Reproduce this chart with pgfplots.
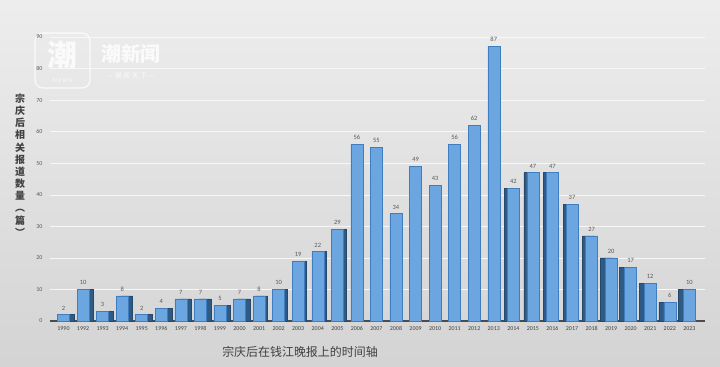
\documentclass[border=0pt]{standalone}
\usepackage{fontspec}
\setmainfont{Carlito}
\newfontfamily\cjk{Noto Sans CJK SC}
\usepackage{pgfplots}
\usepackage{pgfplotstable}
\pgfplotsset{compat=1.18}
\definecolor{frontblue}{HTML}{6CA6E0}
\definecolor{frontedge}{HTML}{3F7CC0}
\definecolor{sideblue}{HTML}{2E5A86}
\definecolor{txtgray}{HTML}{595959}
\definecolor{darktxt}{HTML}{404040}
\pgfplotstableread{
x v
0 2
1 10
2 3
3 8
4 2
5 4
6 7
7 7
8 5
9 7
10 8
11 10
12 19
13 22
14 29
15 56
16 55
17 34
18 49
19 43
20 56
21 62
22 87
23 42
24 47
25 47
26 37
27 27
28 20
29 17
30 12
31 6
32 10
}\datatable
\begin{document}
\begin{tikzpicture}
\shade[top color=black!7, bottom color=black!17] (-50bp,-46bp) rectangle (670bp,321bp);
% watermark
\begin{scope}[opacity=0.8]
\draw[white, line width=1.1pt, rounded corners=8bp] (-15bp,233bp) rectangle (40bp,288bp);
\node[white, font=\cjk\fontsize{30}{30}\selectfont\bfseries] at (12.5bp,266bp) {潮};
\node[white, font=\fontsize{6}{6}\selectfont] at (12.5bp,240bp) {N E W S};
\node[white, font=\cjk\fontsize{20}{20}\selectfont\bfseries] at (81bp,267bp) {潮新闻};
\node[white, font=\cjk\fontsize{7}{7}\selectfont] at (81bp,245bp) {— 潮 闻 天 下 —};
\end{scope}
\begin{axis}[
  scale only axis,
  width=655bp, height=284bp,
  xmin=-0.69, xmax=32.8,
  ymin=0, ymax=90,
  ybar,
  bar width=12bp,
  ytick={0,10,...,90},
  xtick={0,...,32},
  xticklabels={1990,1992,1993,1994,1995,1996,1997,1998,1999,2000,2001,2002,2003,2004,2005,2006,2007,2008,2009,2010,2011,2012,2013,2014,2015,2016,2017,2018,2019,2020,2021,2022,2023},
  major tick length=0pt,
  axis x line*=bottom,
  axis y line*=left,
  y axis line style={draw=none},
  x axis line style={draw=gray!60!black, line width=1.2pt},
  ymajorgrids,
  grid style={white!97!black, line width=0.5pt},
  /pgf/number format/assume math mode=true,
  yticklabel style={font=\fontsize{6}{6}\selectfont, text=txtgray, xshift=-4bp},
  xticklabel style={font=\fontsize{6}{6}\selectfont, text=darktxt, yshift=-2bp},
  clip=false,
]
\addplot[bar shift=4.5bp, fill=sideblue, draw=sideblue!80!black, restrict x to domain=0:9] table[x=x,y=v]{\datatable};
\addplot[bar shift=2.5bp, fill=sideblue, draw=sideblue!80!black, restrict x to domain=10:14] table[x=x,y=v]{\datatable};
\addplot[bar shift=-3bp, fill=sideblue, draw=sideblue!80!black, restrict x to domain=23:27] table[x=x,y=v]{\datatable};
\addplot[bar shift=-5bp, fill=sideblue, draw=sideblue!80!black, restrict x to domain=28:32] table[x=x,y=v]{\datatable};
\addplot[bar shift=0bp, fill=frontblue, draw=frontedge, line width=0.5pt,
  nodes near coords,
  every node near coord/.append style={font=\fontsize{6.5}{7}\selectfont, text=txtgray, yshift=1bp}]
  table[x=x,y=v]{\datatable};
\end{axis}
\node[font=\cjk\fontsize{10}{12.2}\selectfont\bfseries, text=darktxt, align=center] at (-30bp,156bp)
  {宗\\庆\\后\\相\\关\\报\\道\\数\\量\\︵\\篇\\︶};
\node[font=\cjk\fontsize{12}{12}\selectfont, text=darktxt] at (250bp,-31bp) {宗庆后在钱江晚报上的时间轴};
\end{tikzpicture}
\end{document}
